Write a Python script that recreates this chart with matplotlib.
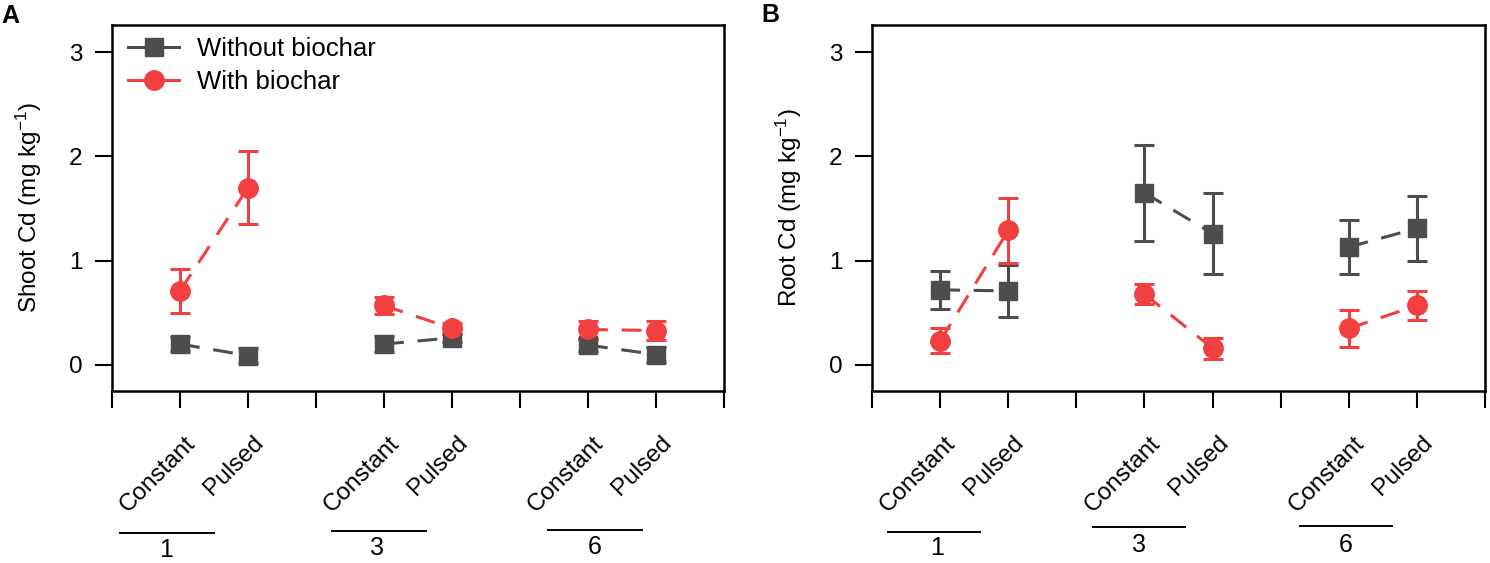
import numpy as np
import matplotlib
matplotlib.use("Agg")
import matplotlib.pyplot as plt
from matplotlib.lines import Line2D
from matplotlib.transforms import blended_transform_factory, ScaledTranslation

plt.rcParams['font.family'] = ['Liberation Sans', 'DejaVu Sans']
plt.rcParams['mathtext.default'] = 'regular'

# データ
treatments = ["Constant", "Pulsed", "Constant", "Pulsed", "Constant", "Pulsed"]
groups = ["1", "3", "6"]
xpos = [1, 2, 4, 5, 7, 8]

shoot_without = [0.20, 0.09, 0.20, 0.26, 0.19, 0.10]
shoot_without_err = [0.07, 0.07, 0.08, 0.04, 0.06, 0.07]
shoot_with = [0.71, 1.70, 0.57, 0.35, 0.34, 0.33]
shoot_with_err = [0.21, 0.35, 0.08, 0.05, 0.08, 0.09]

root_without = [0.72, 0.71, 1.65, 1.26, 1.13, 1.31]
root_without_err = [0.18, 0.25, 0.46, 0.39, 0.26, 0.31]
root_with = [0.23, 1.29, 0.68, 0.16, 0.35, 0.57]
root_with_err = [0.12, 0.31, 0.10, 0.10, 0.18, 0.14]

gray = '#4d4d4d'
red = '#f23f3f'

W, H = 1490, 563
fig = plt.figure(figsize=(W / 100, H / 100), dpi=100)
axA = fig.add_axes([112 / W, 1 - 391 / H, 612 / W, 366 / H])
axB = fig.add_axes([872 / W, 1 - 391 / H, 613 / W, 366 / H])


def draw_series(ax, y, err, color, marker, ms):
    # 誤差棒とマーカー
    ax.errorbar(xpos, y, yerr=err, fmt='none', ecolor=color, elinewidth=2.2,
                capsize=7.5, capthick=2.2, zorder=3)
    # グループ内だけ破線で結ぶ
    for i in range(0, len(xpos), 2):
        ax.plot(xpos[i:i + 2], y[i:i + 2], color=color, lw=2.2,
                linestyle=(0, (6.5, 4.5)), zorder=2)
    ax.plot(xpos, y, linestyle='none', marker=marker, ms=ms, color=color,
            mec=color, zorder=4)


def style_axis(ax, ylabel, line_x, line_y, label_x, label_y):
    ax.set_xlim(0, 9)
    ax.set_ylim(-0.25, 3.26)
    ax.set_yticks([0, 1, 2, 3])
    ax.set_xticks(range(10))
    ax.set_xticklabels([])
    for s in ax.spines.values():
        s.set_linewidth(1.8)
    ax.tick_params(axis='both', direction='out', length=12.5, width=1.5,
                   labelsize=17.5, pad=9)
    ax.set_ylabel(ylabel, fontsize=17.5)
    ax.yaxis.set_label_coords(-(112 - 29) / 612, 0.5)
    ax.yaxis.label.set_va('center')

    trans = blended_transform_factory(ax.transData, ax.transAxes)
    off = ScaledTranslation(20 / 100, -41 / 100, fig.dpi_scale_trans)
    for x, t in zip(xpos, treatments):
        ax.text(x, 0, t, transform=trans + off, rotation=45, ha='right',
                va='top', fontsize=17.5)
    for (x0, x1), yy, lx, ly, g in zip(line_x, line_y, label_x, label_y, groups):
        ax.plot([x0, x1], [yy, yy], transform=trans, color='black', lw=1.4,
                clip_on=False)
        ax.text(lx, ly, g, transform=trans, ha='center', va='center',
                fontsize=18)


draw_series(axA, shoot_without, shoot_without_err, gray, 's', 12.8)
draw_series(axA, shoot_with, shoot_with_err, red, 'o', 14)
draw_series(axB, root_without, root_without_err, gray, 's', 12.8)
draw_series(axB, root_with, root_with_err, red, 'o', 14)

style_axis(axA, 'Shoot Cd (mg kg$^{-1}$)',
           [(0.12, 1.5), (3.23, 4.62), (6.41, 7.79)],
           [-0.388, -0.383, -0.380],
           [0.79, 3.9, 7.1],
           [-0.434, -0.430, -0.427])
style_axis(axB, 'Root Cd (mg kg$^{-1}$)',
           [(0.235, 1.586), (3.25, 4.6), (6.28, 7.63)],
           [-0.385, -0.372, -0.369],
           [0.95, 3.92, 6.95],
           [-0.430, -0.422, -0.422])

handles = [Line2D([], [], color=gray, lw=2.2, marker='s', ms=12.8),
           Line2D([], [], color=red, lw=2.2, marker='o', ms=14)]
axA.legend(handles, ['Without biochar', 'With biochar'], loc='upper left',
           bbox_to_anchor=(16 / 612, 1 - 12 / 366), frameon=False, fontsize=18.5,
           handlelength=2.0, handletextpad=0.7, borderpad=0, borderaxespad=0,
           labelspacing=0.35)

fig.text(10 / W, 1 - 16 / H, 'A', fontsize=18, fontweight='bold',
         ha='center', va='center')
fig.text(770 / W, 1 - 15 / H, 'B', fontsize=18, fontweight='bold',
         ha='center', va='center')

fig.savefig('out.png', dpi=100)
